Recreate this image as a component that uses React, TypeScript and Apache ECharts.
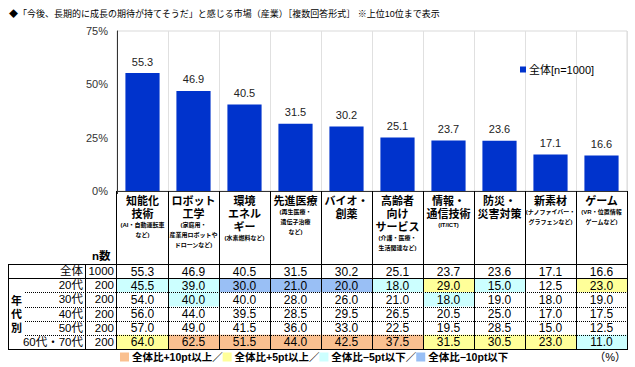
import React, { useEffect, useRef } from 'react';
import * as echarts from 'echarts';

const titleText = '◆「今後、長期的に成長の期待が持てそうだ」と感じる市場（産業）［複数回答形式］ ※上位10位まで表示';
const seriesName = '全体[n=1000]';
const categories = ['知能化技術', 'ロボット工学', '環境エネルギー', '先進医療', 'バイオ・創薬', '高齢者向けサービス', '情報・通信技術', '防災・災害対策', '新素材', 'ゲーム'];
const catMain = [['知能化', '技術'], ['ロボット', '工学'], ['環境', 'エネル', 'ギー'], ['先進医療'], ['バイオ・', '創薬'], ['高齢者', '向け', 'サービス'], ['情報・', '通信技術'], ['防災・', '災害対策'], ['新素材'], ['ゲーム']];
const catSub = [['(AI・自動運転車', 'など)'], ['(家庭用・', '産業用ロボットや', 'ドローンなど)'], ['(水素燃料など)'], ['(再生医療・', '遺伝子治療', 'など)'], [], ['(介護・医療・', '生活関連など)'], ['(IT/ICT)'], [], ['(ナノファイバー・', 'グラフェンなど)'], ['(VR・位置情報', 'ゲームなど)']];
const overall = [55.3, 46.9, 40.5, 31.5, 30.2, 25.1, 23.7, 23.6, 17.1, 16.6];
const yTicks = [0, 25, 50, 75];

const rowNames = ['全体', '20代', '30代', '40代', '50代', '60代・70代'];
const rowN = [1000, 200, 200, 200, 200, 200];
const age20 = [45.5, 39.0, 30.0, 21.0, 20.0, 18.0, 29.0, 15.0, 12.5, 23.0];
const age30 = [54.0, 40.0, 40.0, 28.0, 26.0, 21.0, 18.0, 19.0, 18.0, 19.0];
const age40 = [56.0, 44.0, 39.5, 28.5, 29.5, 26.5, 20.5, 25.0, 17.0, 17.5];
const age50 = [57.0, 49.0, 41.5, 36.0, 33.0, 22.5, 19.5, 28.5, 15.0, 12.5];
const age6070 = [64.0, 62.5, 51.5, 44.0, 42.5, 37.5, 31.5, 30.5, 23.0, 11.0];
const footLabels = ['全体比+10pt以上／', '全体比+5pt以上／', '全体比−5pt以下／', '全体比−10pt以下'];

const HL = ['#FAC090', '#FFFF99', '#CCFFFF', '#99BFF5'];
const BAR = '#0033CC';
const JP = "'Liberation Sans', 'Noto Sans CJK JP', sans-serif";

// layout
const W = 635, H = 367;
const PL = 117, PR = 627, PT = 31, PB = 191;
const TT = 264, TB = 349;
const NROWS = 6;
const rowH = (TB - TT) / NROWS;
const colW = (PR - PL) / categories.length;

function hlColor(v: number, base: number): string | null {
  const d = v - base;
  if (d >= 10) return HL[0];
  if (d >= 5) return HL[1];
  if (d <= -10) return HL[3];
  if (d <= -5) return HL[2];
  return null;
}

export default function App() {
  const ref = useRef<HTMLDivElement>(null);
  useEffect(() => {
    document.body.style.margin = '0';
    const chart = echarts.init(ref.current!, null, { renderer: 'svg' });
    const rows = [overall, age20, age30, age40, age50, age6070];
    const cells: number[][] = [];
    const fills: (string | null)[] = [];
    rows.forEach((vals, r) => vals.forEach((v, c) => {
      cells.push([c, r, v]);
      fills.push(r === 0 ? null : hlColor(v, overall[c]));
    }));

    const lines: any[] = [];
    const hline = (y: number, x1: number, x2: number, dotted: boolean) => lines.push({
      type: 'line', z: 100, shape: { x1, y1: Math.round(y) + 0.5, x2, y2: Math.round(y) + 0.5 },
      style: { stroke: '#000', lineWidth: 1, lineDash: dotted ? [1, 1] : null },
    });
    const vline = (x: number, y1: number, y2: number) => lines.push({
      type: 'line', z: 100, shape: { x1: Math.round(x) + 0.5, y1, x2: Math.round(x) + 0.5, y2 },
      style: { stroke: '#000', lineWidth: 1 },
    });
    hline(TT, 8, PR + 1, false);
    hline(TT + rowH, 8, PR + 1, false);
    for (let k = 2; k < NROWS; k++) hline(TT + k * rowH, 25, PR + 1, true);
    hline(TB, 8, PR + 1, false);
    vline(8, TT, TB + 1);
    vline(85, TT, TB + 1);
    for (let i = 0; i <= categories.length; i++) vline(PL + i * colW - (i === 0 ? 1 : 0), PB, TB + 1);

    const footRich: any = { t: { fontSize: 10.5, fontWeight: 'bold', fontFamily: JP, color: '#000' } };
    HL.forEach((c, i) => { footRich['q' + i] = { backgroundColor: c, width: 9, height: 9 }; });
    const footStr = footLabels.map((l, i) => `{q${i}|}{t| ${l}}`).join('');

    const option: any = {
      animation: false,
      textStyle: { fontFamily: JP },
      title: {
        text: titleText, left: 4, top: 4,
        textStyle: { fontSize: 9, fontWeight: 'normal', color: '#000', fontFamily: JP },
      },
      legend: {
        data: [seriesName], left: 515, top: 59, icon: 'rect', itemWidth: 6, itemHeight: 6, itemGap: 4,
        textStyle: { fontSize: 11, color: '#000', fontFamily: JP, padding: [0, 0, 0, -2] },
      },
      grid: [
        { left: PL, top: PT, width: PR - PL, height: PB - PT, show: true, borderColor: '#D9D9D9', borderWidth: 1 },
        { left: PL, top: TT, width: PR - PL, height: TB - TT, show: false },
      ],
      xAxis: [
        {
          type: 'category', gridIndex: 0, data: categories,
          axisLine: { lineStyle: { color: '#333' } },
          axisTick: { show: true, length: 3, lineStyle: { color: '#333' } },
          splitLine: { show: true, lineStyle: { color: '#E0E0E0' } },
          axisLabel: {
            interval: 0, margin: 3, hideOverlap: false,
            formatter: (_: string, i: number) => [
              ...catMain[i].map((s) => `{m|${s}}`),
              ...catSub[i].map((s) => `{s|${s}}`),
            ].join('\n'),
            rich: {
              m: { fontSize: 11, fontWeight: 'bold', lineHeight: 13, color: '#000', fontFamily: JP, align: 'center' },
              s: { fontSize: 6, fontWeight: 'bold', lineHeight: 10, color: '#000', fontFamily: JP, align: 'center' },
            },
          },
        },
        {
          type: 'category', gridIndex: 1, data: categories, show: false,
        },
      ],
      yAxis: [
        {
          type: 'value', gridIndex: 0, min: yTicks[0], max: yTicks[yTicks.length - 1], interval: 25,
          axisLine: { show: true, lineStyle: { color: '#333' } },
          axisTick: { show: false },
          splitLine: { show: false },
          axisLabel: { margin: 9, fontSize: 11, color: '#333', fontFamily: JP, formatter: '{value}%' },
        },
        {
          type: 'category', gridIndex: 1, data: rowNames, inverse: true,
          axisLine: { show: false }, axisTick: { show: false }, splitLine: { show: false },
          axisLabel: {
            margin: 3, interval: 0, hideOverlap: false,
            formatter: (_: string, i: number) => `{a|${rowNames[i]}}{n|${rowN[i]}}`,
            rich: {
              a: { width: 55, align: 'right', fontSize: 11.5, color: '#000', fontFamily: JP },
              n: { width: 31, align: 'right', fontSize: 11.5, color: '#000', fontFamily: JP },
            },
          },
        },
      ],
      series: [
        {
          name: seriesName, type: 'bar', xAxisIndex: 0, yAxisIndex: 0, data: overall,
          barCategoryGap: '33%',
          itemStyle: { color: BAR },
          label: { show: true, position: 'top', distance: 6, fontSize: 11, color: '#222', fontFamily: JP, formatter: (p: any) => p.value.toFixed(1) },
        },
        {
          type: 'custom', xAxisIndex: 1, yAxisIndex: 1, data: cells, encode: { x: 0, y: 1 },
          renderItem: (params: any, api: any) => {
            const c = api.value(0), r = api.value(1), v = api.value(2);
            const p = api.coord([c, r]);
            const s = api.size([1, 1]);
            const fill = fills[params.dataIndex];
            const children: any[] = [];
            if (fill) children.push({
              type: 'rect', shape: { x: p[0] - s[0] / 2, y: p[1] - s[1] / 2, width: s[0], height: s[1] },
              style: { fill },
            });
            children.push({
              type: 'text', x: p[0], y: p[1] + 0.5,
              style: { text: Number(v).toFixed(1), fill: '#000', fontSize: 12, fontFamily: JP, align: 'center', verticalAlign: 'middle' },
            });
            return { type: 'group', children };
          },
        },
      ],
      graphic: [
        ...lines,
        { type: 'text', left: 92, top: 250, style: { text: 'n数', fontSize: 11.5, fontWeight: 'bold', fill: '#000', fontFamily: JP } },
        { type: 'text', left: 11, top: 294, style: { text: '年\n代\n別', fontSize: 11, fontWeight: 'bold', lineHeight: 13.5, fill: '#000', fontFamily: JP } },
        { type: 'text', left: 120, top: 351, style: { text: footStr, rich: footRich } },
        { type: 'text', right: 9, top: 351, style: { text: '（%）', fontSize: 11, fill: '#000', fontFamily: JP } },
      ],
    };
    chart.setOption(option);
    return () => chart.dispose();
  }, []);
  return <div ref={ref} style={{ width: W, height: H }} />;
}
